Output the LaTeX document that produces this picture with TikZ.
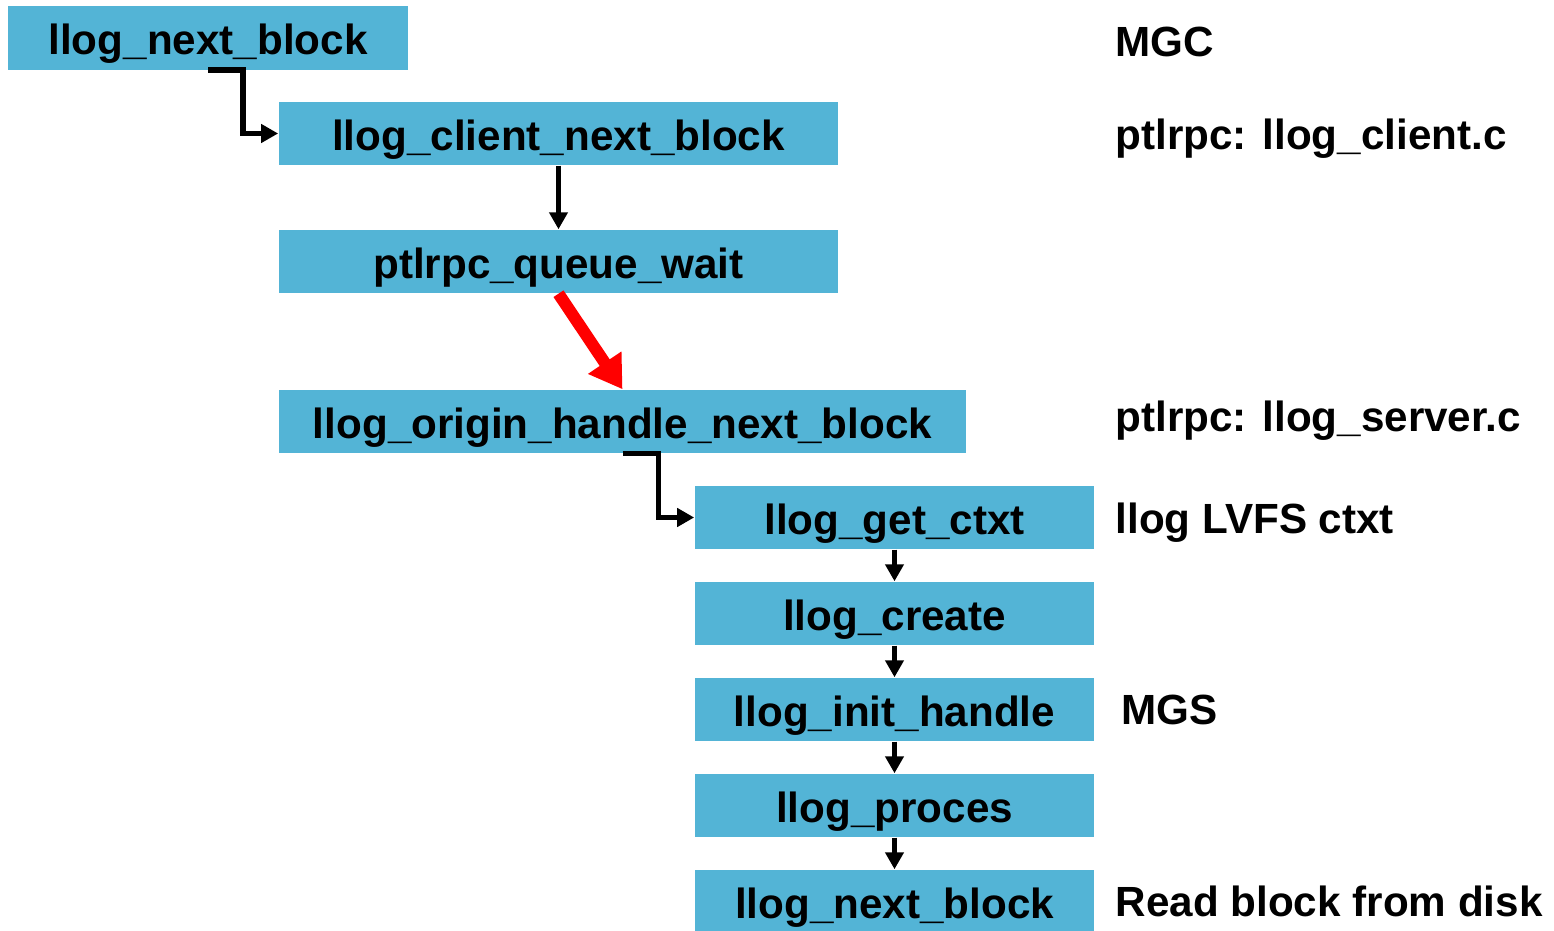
\documentclass[tikz,border=0pt]{standalone}
\usepackage{fontspec}
\setmainfont{Liberation Sans}
\usetikzlibrary{arrows.meta,positioning}
\definecolor{boxc}{HTML}{53B4D6}
\definecolor{hotc}{HTML}{FF0000}
\tikzset{
  fn/.style={fill=boxc,minimum height=6.3mm,inner sep=0pt,text height=11pt,text depth=1.4pt,font=\fontsize{12}{14}\selectfont\bfseries},
  ar/.style={-{Triangle[length=1.7mm,width=1.8mm]},line width=0.55mm,black},
  hot/.style={-{Triangle[length=3.2mm,width=3.8mm]},line width=1.2mm,hotc},
  lbl/.style={anchor=base west,inner sep=0pt,font=\fontsize{12}{14}\selectfont\bfseries}
}

\begin{document}
\begin{tikzpicture}[x=0.01cm,y=-0.01cm]
\useasboundingbox (0,0) rectangle (1554,931);
% client side
\node[fn,minimum width=4cm] (nb) at (208,38) {llog\_next\_block};
\node[fn,minimum width=5.59cm] (cnb) at (558.5,133.5) {llog\_client\_next\_block};
\node[fn,minimum width=5.59cm] (qw) at (558.5,261.5) {ptlrpc\_queue\_wait};
% server side
\node[fn,minimum width=6.87cm] (ohnb) at (622.5,421.5) {llog\_origin\_handle\_next\_block};
\node[fn,minimum width=3.99cm] (gc) at (894.5,517.5) {llog\_get\_ctxt};
\node[fn,minimum width=3.99cm] (cr) at (894.5,613.5) {llog\_create};
\node[fn,minimum width=3.99cm] (ih) at (894.5,709.5) {llog\_init\_handle};
\node[fn,minimum width=3.99cm] (pr) at (894.5,805.5) {llog\_proces};
\node[fn,minimum width=3.99cm] (rb) at (894.5,901.5) {llog\_next\_block};
% notes
\node[lbl] (mgc) at (1115,57) {MGC};
\node[lbl] (cli) at (1115,150) {ptlrpc: llog\_client.c};
\node[lbl] (srv) at (1115,432) {ptlrpc: llog\_server.c};
\node[lbl] (lvfs) at (1115,534) {llog LVFS ctxt};
\node[lbl] (mgs) at (1121,725) {MGS};
\node[lbl] (disk) at (1115,917) {Read block from disk};
% calls
\draw[ar] (nb.south) -- ++(35,0) |- (cnb.west);
\draw[ar] (cnb) -- (qw);
\draw[hot] (qw.south) -- (ohnb.north);
\draw[ar] (ohnb.south) -- ++(36,0) |- (gc.west);
\foreach \a/\b in {gc/cr,cr/ih,ih/pr,pr/rb}
  \draw[ar] (\a) -- (\b);
\end{tikzpicture}
\end{document}
